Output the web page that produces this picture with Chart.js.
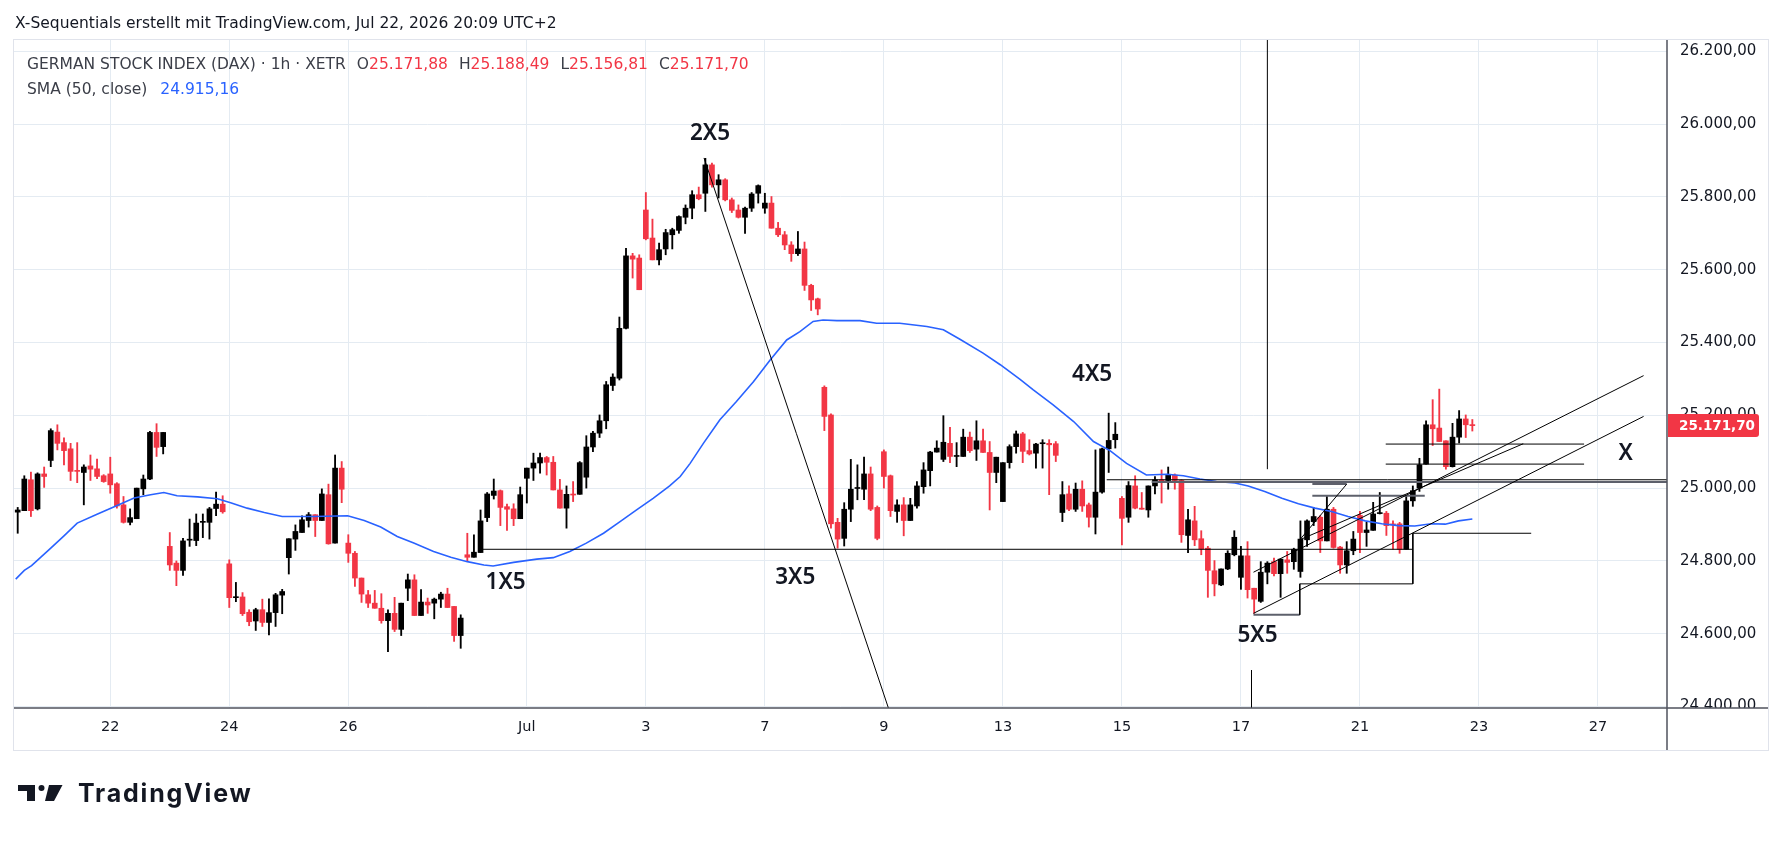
<!DOCTYPE html>
<html>
<head>
<meta charset="utf-8">
<title>DAX 1h</title>
<script src="https://cdn.jsdelivr.net/npm/chart.js@4.4.1/dist/chart.umd.min.js"></script>
<style>
  html, body { margin: 0; padding: 0; background: #fff; }
  #wrap { position: relative; width: 1781px; height: 841px; overflow: hidden; }
  #chart { position: absolute; left: 0; top: 0; z-index: 0; }
  .title, .legend, .logo { z-index: 2; }
  .title { position: absolute; left: 15px; top: 13px; font: 15.5px "DejaVu Sans", sans-serif; line-height: 20px; color: #131722; white-space: nowrap; }
  .legend { position: absolute; left: 27px; top: 51.5px; font: 15.5px "DejaVu Sans", sans-serif; color: #3b3e48; line-height: 25px; white-space: nowrap; }
  .legend .item { margin-left: 11px; }
  .legend .up { color: #F23645; }
  .legend .sma { color: #2962FF; margin-left: 13px; }
  .logo { position: absolute; left: 18px; top: 778px; display: flex; align-items: center; }
  .logo span { font: 700 25px Inter, sans-serif; color: #131722; margin-left: 15px; letter-spacing: 1.8px; }
</style>
</head>
<body>
<div id="wrap">
  <canvas id="chart" width="1781" height="841"></canvas>
  <div class="title">X-Sequentials erstellt mit TradingView.com, Jul 22, 2026 20:09 UTC+2</div>
  <div class="legend">
    <div>GERMAN STOCK INDEX (DAX) · 1h · XETR<span class="item">O<span class="up" id="vO"></span></span><span class="item">H<span class="up" id="vH"></span></span><span class="item">L<span class="up" id="vL"></span></span><span class="item">C<span class="up" id="vC"></span></span></div>
    <div>SMA (50, close)<span class="sma" id="vS"></span></div>
  </div>
  <div class="logo">
    <svg width="45" height="16" viewBox="0 0 45 16">
      <path d="M0 0 H17 V16 H9 V6 H0 Z" fill="#131722"/>
      <circle cx="23.5" cy="3" r="3" fill="#131722"/>
      <path d="M31 0 H44.5 L36 16 H27 Z" fill="#131722"/>
    </svg>
    <span>TradingView</span>
  </div>
</div>
<script>
// bar 0 = Jun 22 09:00, 9 hourly bars per trading day
const firstBar = -14;

const opens = [
  24934, 24938, 25023, 24943, 25039, 25076, 25154, 25125, 25108, 25048, 25043, 25061, 25053, 25034,
  25039, 25012, 24954, 24906, 24916, 24998, 25025, 25153, 25114,
  24840, 24794, 24774, 24857, 24856, 24906, 24906, 24944, 24956,
  24792, 24699, 24701, 24659, 24635, 24666, 24631, 24658, 24706,
  24809, 24860, 24878, 24911, 24927, 24911, 24982, 24849, 25055,
  24849, 24821, 24753, 24707, 24684, 24670, 24636, 24656, 24612,
  24725, 24748, 24650, 24687, 24684, 24695, 24709, 24675, 24595,
  24817, 24810, 24823, 24919, 24980, 24993, 24949, 24943, 24916,
  25027, 25055, 25069, 25084, 25071, 24995, 24945, 24983, 24983,
  25030, 25113, 25151, 25185, 25282, 25302, 25439, 25638, 25632,
  25764, 25687, 25627, 25657, 25696, 25708, 25744, 25769, 25806,
  25810, 25888, 25833, 25847, 25792, 25764, 25744, 25769, 25810,
  25769, 25783, 25714, 25696, 25668, 25644, 25657, 25557, 25520,
  25277, 25201, 24906, 24862, 24942, 24999, 24997, 25039, 24947,
  25100, 25034, 24936, 24954, 24911, 24951, 25004, 25048, 25099,
  25079, 25123, 25087, 25087, 25140, 25107, 25130, 25098, 25043,
  24963, 25070, 25114, 25149, 25103, 25096, 25122, 25123, 25122,
  24933, 24984, 24942, 24997, 24954, 24920, 24989, 25108, 25133,
  24972, 24920, 25006, 24945, 24940, 25006, 25023, 25021, 25036,
  25021, 24870, 24910, 24861, 24835, 24773, 24734, 24778, 24817,
  24755, 24814, 24725, 24689, 24769, 24798, 24765, 24803, 24798,
  24771, 24858, 24908, 24920, 24855, 24942, 24838, 24789, 24828,
  24925, 24878, 24884, 24930, 24931, 24901, 24902, 24832, 24965,
  25000, 25066, 25174, 25165, 25130, 25059, 25140, 25190, 25171.88
];
const highs = [
  24947, 25034, 25044, 25042, 25058, 25163, 25174, 25138, 25123, 25125, 25064, 25091, 25080, 25037,
  25085, 25015, 24977, 24943, 25000, 25036, 25156, 25177, 25153,
  24878, 24800, 24862, 24915, 24929, 24929, 24947, 24989, 24979,
  24803, 24741, 24713, 24666, 24670, 24695, 24696, 24711, 24722,
  24861, 24899, 24924, 24933, 24927, 24998, 25011, 25091, 25073,
  24872, 24826, 24753, 24719, 24719, 24710, 24666, 24700, 24684,
  24764, 24762, 24721, 24698, 24698, 24714, 24725, 24675, 24652,
  24876, 24872, 24940, 24988, 25025, 24995, 24956, 24957, 25003,
  25055, 25096, 25096, 25087, 25087, 25024, 25006, 25018, 25073,
  25144, 25156, 25201, 25293, 25314, 25470, 25659, 25645, 25641,
  25812, 25739, 25673, 25711, 25714, 25748, 25778, 25817, 25827,
  25906, 25893, 25861, 25850, 25797, 25778, 25772, 25812, 25833,
  25810, 25801, 25730, 25705, 25677, 25705, 25676, 25560, 25522,
  25281, 25204, 24917, 24960, 25079, 25064, 25085, 25058, 24951,
  25105, 25036, 24968, 24974, 24972, 25018, 25070, 25101, 25130,
  25199, 25167, 25125, 25162, 25154, 25185, 25162, 25128, 25085,
  25070, 25119, 25157, 25153, 25133, 25123, 25133, 25133, 25128,
  25018, 25006, 25014, 25020, 24959, 25105, 25110, 25206, 25180,
  24977, 25018, 25034, 24988, 25006, 25032, 25050, 25058, 25039,
  25023, 24942, 24950, 24883, 24840, 24801, 24778, 24828, 24883,
  24840, 24853, 24725, 24798, 24798, 24808, 24805, 24826, 24835,
  24910, 24913, 24947, 24924, 24977, 24947, 24840, 24853, 24881,
  24936, 24906, 24961, 24988, 24936, 24910, 24906, 24977, 25006,
  25082, 25185, 25243, 25272, 25130, 25178, 25213, 25201, 25188.49
];
const lows = [
  24876, 24938, 24922, 24940, 25002, 25059, 25105, 25064, 25021, 25015, 24954, 25021, 25026, 25016,
  24986, 24945, 24904, 24899, 24916, 24982, 25023, 25087, 25094,
  24774, 24732, 24760, 24840, 24842, 24864, 24860, 24924, 24931,
  24672, 24688, 24650, 24622, 24609, 24620, 24597, 24620, 24655,
  24764, 24829, 24878, 24893, 24867, 24911, 24846, 24849, 24960,
  24796, 24730, 24686, 24672, 24670, 24629, 24551, 24606, 24595,
  24691, 24650, 24650, 24656, 24641, 24672, 24672, 24579, 24560,
  24798, 24810, 24823, 24908, 24970, 24897, 24884, 24897, 24916,
  24959, 25021, 25041, 25036, 24995, 24945, 24890, 24963, 24983,
  25000, 25100, 25139, 25163, 25268, 25297, 25437, 25577, 25545,
  25682, 25627, 25613, 25641, 25657, 25700, 25726, 25740, 25792,
  25760, 25827, 25797, 25789, 25757, 25742, 25700, 25760, 25783,
  25755, 25714, 25691, 25655, 25623, 25639, 25543, 25488, 25476,
  25158, 24890, 24835, 24841, 24908, 24968, 24968, 24938, 24858,
  25000, 24922, 24906, 24869, 24911, 24945, 24986, 25006, 25099,
  25073, 25070, 25059, 25087, 25098, 25076, 25098, 24940, 25015,
  24963, 25055, 25096, 25070, 25091, 25055, 25055, 24982, 25073,
  24908, 24938, 24936, 24936, 24893, 24874, 24986, 25043, 25110,
  24844, 24906, 24943, 24942, 24920, 24984, 24959, 24997, 24997,
  24851, 24823, 24842, 24817, 24700, 24704, 24732, 24776, 24814,
  24722, 24698, 24656, 24686, 24737, 24759, 24700, 24766, 24777,
  24755, 24840, 24897, 24823, 24855, 24835, 24766, 24766, 24817,
  24823, 24840, 24884, 24929, 24870, 24832, 24821, 24832, 24950,
  24991, 25066, 25117, 25128, 25052, 25058, 25124, 25139, 25156.81
];
const closes = [
  24940, 25025, 24938, 25039, 25032, 25158, 25123, 25103, 25046, 25046, 25058, 25052, 25032, 25018,
  25009, 24951, 24906, 24919, 25000, 25025, 25153, 25112, 25153,
  24789, 24774, 24855, 24859, 24904, 24907, 24943, 24956, 24935,
  24699, 24701, 24655, 24633, 24666, 24631, 24658, 24707, 24716,
  24861, 24881, 24913, 24927, 24911, 24984, 24847, 25055, 24997,
  24821, 24753, 24709, 24684, 24670, 24636, 24656, 24612, 24684,
  24748, 24650, 24687, 24679, 24695, 24709, 24672, 24595, 24643,
  24810, 24824, 24910, 24984, 24992, 24947, 24942, 24916, 24982,
  25055, 25069, 25084, 25071, 24995, 24945, 24983, 24981, 25070,
  25113, 25151, 25185, 25284, 25305, 25439, 25638, 25629, 25545,
  25685, 25627, 25655, 25702, 25710, 25746, 25769, 25806, 25795,
  25888, 25833, 25847, 25792, 25763, 25744, 25769, 25808, 25831,
  25783, 25714, 25696, 25668, 25644, 25657, 25557, 25517, 25492,
  25197, 24902, 24860, 24942, 24997, 25001, 25039, 24942, 24862,
  25032, 24938, 24954, 24911, 24954, 25006, 25050, 25099, 25110,
  25126, 25087, 25089, 25140, 25103, 25130, 25098, 25043, 25085,
  25070, 25114, 25149, 25101, 25094, 25121, 25123, 25119, 25090,
  24982, 24942, 24997, 24951, 24920, 24989, 25108, 25131, 25148,
  24917, 25007, 24945, 24942, 25006, 25023, 25018, 25038, 25021,
  24872, 24913, 24858, 24833, 24774, 24737, 24778, 24821, 24865,
  24814, 24721, 24695, 24769, 24794, 24765, 24805, 24796, 24832,
  24860, 24910, 24922, 24855, 24942, 24837, 24789, 24828, 24860,
  24878, 24885, 24929, 24932, 24897, 24899, 24832, 24965, 24993,
  25064, 25174, 25163, 25128, 25059, 25140, 25190, 25174, 25171.70
];

// SMA(50)
const smaBars = [-14.3, -13, -11.9, -9, -7, -5, -2, 0.6, 3.6, 6.1, 8.1, 10.1, 13.2, 16.2, 18.2, 20.7, 23.3, 26, 30.8, 35.9,
  38.4, 40.9, 43.4, 45.9, 48.9, 51.5, 54, 56.5, 57.9, 61, 64.5, 67, 69.5, 72, 74.6, 77.1, 79.6, 82.1, 84.6, 86.2,
  87.7, 89.7, 92.2, 94.7, 97.3, 99.8, 102.3, 104.3, 106.3, 107.8, 109.9, 113.4, 115.9, 119.4, 123.5, 126, 128.5, 132, 134.6, 137.6,
  139.6, 142.6, 145.7, 148.7, 151.2, 153.7, 156.7, 159.8, 162.3, 164.8, 167.3, 170.1, 172.1, 174.6, 177.2, 179.7, 182.2, 184.7, 187.2, 189.8,
  192.3, 194.8, 197.3, 199.8, 201.9, 203.9, 206];
const smaValues = [24750, 24774, 24787, 24835, 24869, 24904, 24928, 24949, 24973, 24982, 24988, 24979, 24976, 24971, 24960, 24945, 24933, 24922, 24922, 24924,
  24911, 24893, 24867, 24849, 24826, 24810, 24798, 24789, 24786, 24796, 24805, 24809, 24826, 24849, 24876, 24908, 24940, 24972, 25006, 25032,
  25068, 25123, 25188, 25238, 25293, 25352, 25407, 25430, 25458, 25462, 25460, 25460, 25453, 25453, 25444, 25435, 25409, 25371, 25339, 25299,
  25270, 25229, 25183, 25128, 25103, 25068, 25036, 25038, 25034, 25025, 25018, 25014, 25006, 24991, 24972, 24957, 24945, 24936, 24922, 24910,
  24902, 24897, 24896, 24902, 24901, 24910, 24915.16];

// time axis
const tickBars = [0, 18, 36, 63, 81, 99, 117, 135, 153, 171, 189, 207, 225];
const tickLabels = ['22', '24', '26', 'Jul', '3', '7', '9', '13', '15', '17', '21', '23', '27'];
const priceTicks = [24400, 24600, 24800, 25000, 25200, 25400, 25600, 25800, 26000, 26200];

// drawings: [bar1, price1, bar2, price2]
const trendLines = [
  [89.8, 25907, 118.0, 24379],
  [55.8, 24832, 197.0, 24832],
  [197.0, 24876, 197.0, 24737],
  [197.0, 24876, 214.9, 24876],
  [179.9, 24737, 197.0, 24737],
  [179.9, 24737, 179.9, 24652],
  [192.9, 25121, 222.9, 25121],
  [192.9, 25066, 222.9, 25066],
  [150.7, 25023, 236, 25023],
  [175.0, 25052, 175.0, 26300],
  [172.6, 24500, 172.6, 24380],
  [179.9, 24858, 187.0, 25011],
  [172.9, 24769, 231.9, 25309],
  [172.9, 24656, 231.9, 25197],
  [179.9, 24858, 213.7, 25122]
];
const grayLines = [
  [157.5, 25017, 236, 25017],
  [181.8, 25011, 187.0, 25011],
  [181.8, 24979, 198.8, 24979],
  [172.9, 24652, 179.9, 24652]
];
const waveLabels = ['1X5', '2X5', '3X5', '4X5', '5X5', 'X'];
const waveBars = [59.8, 90.7, 103.6, 148.5, 173.5, 229.2];
const wavePrices = [24741, 25975, 24754, 25313, 24594, 25096];

const UP = '#000000';
const DOWN = '#F23645';
const GRID = '#e4ebf2';

function fmtPrice(v) {
  const parts = v.toFixed(2).split('.');
  return parts[0].replace(/\B(?=(\d{3})+(?!\d))/g, '.') + ',' + parts[1];
}

const last = closes.length - 1;
document.getElementById('vO').textContent = fmtPrice(opens[last]);
document.getElementById('vH').textContent = fmtPrice(highs[last]);
document.getElementById('vL').textContent = fmtPrice(lows[last]);
document.getElementById('vC').textContent = fmtPrice(closes[last]);
document.getElementById('vS').textContent = fmtPrice(smaValues[smaValues.length - 1]);

const barColor = i => (closes[i] >= opens[i] ? UP : DOWN);

const bodies = opens.map((o, i) => ({ x: firstBar + i, y: [o, closes[i]] }));
const wicks = lows.map((l, i) => ({ x: firstBar + i, y: [l, highs[i]] }));
const sma = smaBars.map((b, i) => ({ x: b, y: smaValues[i] }));

function segment(s, color, width) {
  return {
    type: 'line',
    data: [{ x: s[0], y: s[1] }, { x: s[2], y: s[3] }],
    borderColor: color,
    borderWidth: width,
    pointRadius: 0,
    order: 0
  };
}

const labelsPlugin = {
  id: 'waveLabels',
  afterDatasetsDraw(chart) {
    const { ctx, scales: { x, y } } = chart;
    ctx.save();
    ctx.font = '600 22.5px "Noto Sans"';
    ctx.fillStyle = '#131722';
    ctx.textAlign = 'center';
    ctx.textBaseline = 'middle';
    waveLabels.forEach((t, i) => {
      ctx.fillText(t, x.getPixelForValue(waveBars[i]), y.getPixelForValue(wavePrices[i]));
    });
    ctx.restore();
  }
};

const framePlugin = {
  id: 'frame',
  beforeDraw(chart) {
    const { ctx, chartArea: a, scales: { x, y } } = chart;
    ctx.save();
    ctx.fillStyle = '#fff';
    ctx.fillRect(0, 0, chart.width, chart.height);
    ctx.strokeStyle = '#e0e3eb';
    ctx.lineWidth = 1;
    ctx.strokeRect(a.left - 0.5, a.top - 0.5, y.right - a.left + 1, x.bottom - a.top + 1);
    ctx.restore();
  },
  afterDraw(chart) {
    const { ctx, chartArea: a, scales: { x, y } } = chart;
    ctx.save();
    // price labels end at the pane bottom
    ctx.fillStyle = '#fff';
    ctx.fillRect(a.right + 1, a.bottom, y.right - a.right - 2, x.bottom - a.bottom - 1);
    ctx.strokeStyle = '#50535e';
    ctx.lineWidth = 1.5;
    ctx.beginPath();
    ctx.moveTo(a.left, a.bottom);
    ctx.lineTo(y.right, a.bottom);
    ctx.moveTo(a.right, a.top);
    ctx.lineTo(a.right, x.bottom);
    ctx.stroke();

    // last price badge
    const py = y.getPixelForValue(closes[last]);
    const bx = a.right + 1, bw = 91, bh = 23;
    ctx.fillStyle = DOWN;
    ctx.beginPath();
    ctx.roundRect(bx, py - bh / 2, bw, bh, [0, 3, 3, 0]);
    ctx.fill();
    ctx.fillStyle = '#fff';
    ctx.font = 'bold 13.5px "DejaVu Sans"';
    ctx.textAlign = 'left';
    ctx.textBaseline = 'middle';
    ctx.fillText(fmtPrice(closes[last]), a.right + 12, py + 1);
    ctx.restore();
  }
};

new Chart(document.getElementById('chart'), {
  type: 'bar',
  data: {
    datasets: [
      ...trendLines.map(s => segment(s, '#000000', 1)),
      ...grayLines.map(s => segment(s, '#5d606b', 2)),
      {
        type: 'line',
        data: sma,
        borderColor: '#2962FF',
        borderWidth: 1.6,
        pointRadius: 0,
        order: 1
      },
      {
        type: 'bar',
        data: bodies,
        backgroundColor: ctx => barColor(ctx.dataIndex),
        barThickness: 5,
        minBarLength: 1,
        grouped: false,
        order: 2
      },
      {
        type: 'bar',
        data: wicks,
        backgroundColor: ctx => barColor(ctx.dataIndex),
        barThickness: 1.2,
        grouped: false,
        order: 3
      }
    ]
  },
  options: {
    responsive: false,
    devicePixelRatio: 1,
    animation: false,
    events: [],
    layout: { padding: { left: 14, top: 40, right: 13, bottom: 91 } },
    plugins: {
      legend: { display: false },
      tooltip: { enabled: false }
    },
    scales: {
      x: {
        type: 'linear',
        position: 'bottom',
        min: -14.56,
        max: 235.44,
        offset: false,
        afterFit: s => { s.height = 42; },
        afterBuildTicks: s => { s.ticks = tickBars.map(v => ({ value: v })); },
        grid: { color: GRID, drawTicks: false, offset: false },
        border: { display: false },
        ticks: {
          autoSkip: false,
          maxRotation: 0,
          padding: 11,
          color: '#131722',
          font: { family: 'DejaVu Sans', size: 14.5 },
          callback: v => tickLabels[tickBars.indexOf(v)]
        }
      },
      y: {
        type: 'linear',
        position: 'right',
        min: 24396,
        max: 26231,
        afterFit: s => { s.width = 101; },
        afterBuildTicks: s => { s.ticks = priceTicks.map(v => ({ value: v })); },
        grid: { color: GRID, drawTicks: false },
        border: { display: false },
        ticks: {
          padding: 13,
          color: '#131722',
          font: { family: 'DejaVu Sans', size: 15 },
          callback: v => fmtPrice(v)
        }
      }
    }
  },
  plugins: [framePlugin, labelsPlugin]
});
</script>
</body>
</html>
